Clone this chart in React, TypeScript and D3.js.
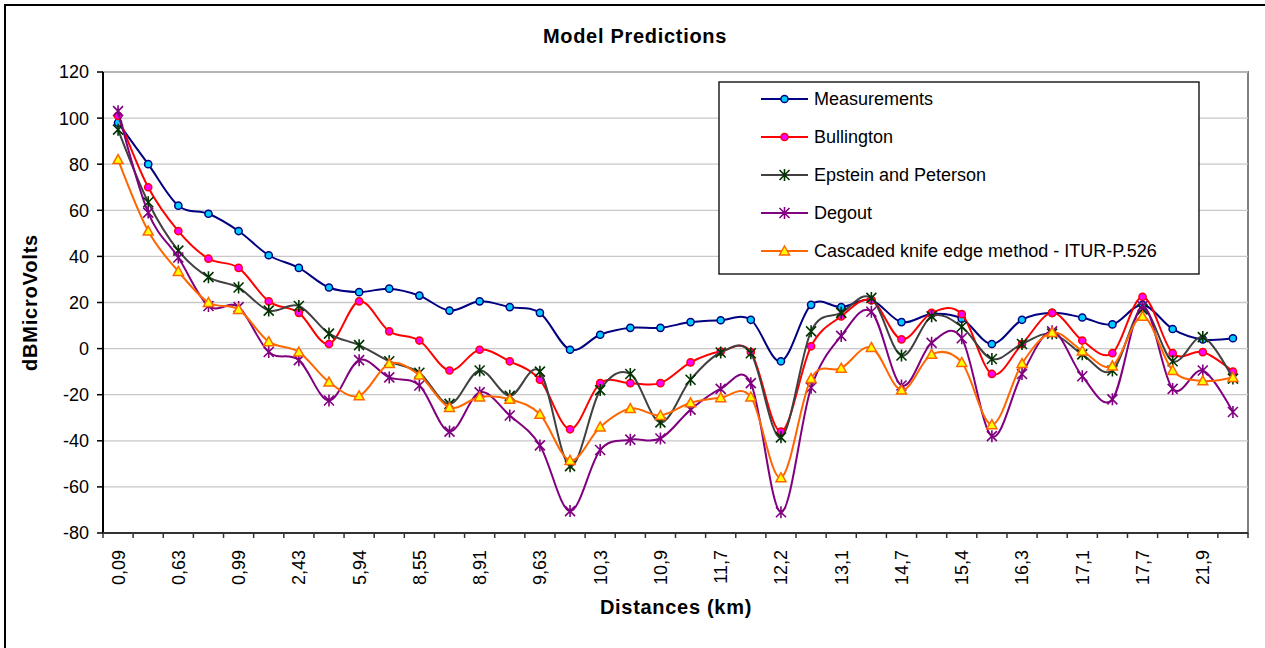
import React from 'react';
import * as d3 from 'd3';

// distances (km); only every second one is labelled on the axis
const distances = [
  '0,09', '0,36', '0,63', '0,81', '0,99', '1,71', '2,43', '4,18', '5,94', '7,24',
  '8,55', '8,73', '8,91', '9,27', '9,63', '9,97', '10,3', '10,6', '10,9', '11,3',
  '11,7', '11,9', '12,2', '12,6', '13,1', '13,9', '14,7', '15,0', '15,4', '15,8',
  '16,3', '16,7', '17,1', '17,4', '17,7', '19,8', '21,9', '22,5',
];

const measurements = [
  98, 80, 62, 58.5, 51, 40.5, 35, 26.5, 24.5, 26,
  23, 16.5, 20.5, 18, 15.5, -0.5, 6, 9, 9, 11.5,
  12.3, 12.5, -5.5, 19, 18, 21, 11.5, 15, 13, 2,
  12.5, 15.5, 13.5, 10.5, 19, 8.5, 4, 4.5,
];
const bullington = [
  101, 70, 51, 39, 35, 20.5, 15.5, 2, 20.5, 7.5,
  3.5, -9.5, -0.5, -5.5, -13.5, -35, -15, -15, -15, -6,
  -1.3, -1.5, -36, 1, 14, 21, 4, 15.5, 15, -11,
  2, 15.5, 3.5, -2, 22.5, -2, -1.5, -10,
];
const epstein = [
  95, 63.5, 42.5, 31, 26.5, 16.5, 18.5, 6.5, 1.5, -5.5,
  -10.5, -24, -9.5, -20.5, -10, -51, -18, -11, -32, -13.5,
  -1.7, -2, -38.5, 7.5, 15.5, 22, -3, 14, 9.5, -4.5,
  2, 6.5, -2.5, -9.5, 17, -5.5, 5, -13,
];
const degout = [
  103, 59, 39.5, 18.5, 18, -1.5, -5, -22.5, -5, -12.5,
  -16, -36, -19, -29, -42, -70.5, -44, -39.5, -39, -26.5,
  -17.5, -15, -71, -17, 5.5, 16, -16, 2.5, 4.5, -38,
  -11, 7.5, -12, -22, 18.5, -17.5, -9.5, -27.5,
];
const cascaded = [
  82, 51, 33.5, 20, 17, 3, -1.5, -14.5, -20.5, -6.5,
  -11.5, -25.5, -21, -22, -28.5, -48.5, -34, -26, -29, -23.5,
  -21.3, -21, -56, -13, -8.5, 0.5, -18, -2.5, -6, -33,
  -6.5, 7, -1, -7.5, 14, -9.5, -14, -12.5,
];

const yTicks = [-80, -60, -40, -20, 0, 20, 40, 60, 80, 100, 120];

type Marker = 'circle' | 'star' | 'triangle';
const series: { name: string; values: number[]; line: string; stroke: string; fill: string; marker: Marker }[] = [
  { name: 'Measurements', values: measurements, line: '#000080', stroke: '#000080', fill: '#00CCFF', marker: 'circle' },
  { name: 'Bullington', values: bullington, line: '#FF0000', stroke: '#FF0000', fill: '#FF00FF', marker: 'circle' },
  { name: 'Epstein and Peterson', values: epstein, line: '#404040', stroke: '#003300', fill: 'none', marker: 'star' },
  { name: 'Degout', values: degout, line: '#800080', stroke: '#800080', fill: 'none', marker: 'star' },
  { name: 'Cascaded knife edge method - ITUR-P.526', values: cascaded, line: '#FF6600', stroke: '#FF6600', fill: '#FFFF00', marker: 'triangle' },
];

const W = 1265;
const H = 648;
const margin = { left: 103, right: 1248, top: 72, bottom: 533 };
const font = 'Arial, "Liberation Sans", sans-serif';

function drawMarker(kind: Marker, x: number, y: number, stroke: string, fill: string, key: React.Key) {
  if (kind === 'circle') {
    return <circle key={key} cx={x} cy={y} r={3.6} fill={fill} stroke={stroke} strokeWidth={1.5} />;
  }
  if (kind === 'triangle') {
    const s = 5;
    return (
      <path
        key={key}
        d={`M${x},${y - s}L${x + s},${y + s * 0.8}L${x - s},${y + s * 0.8}Z`}
        fill={fill}
        stroke={stroke}
        strokeWidth={1.5}
        strokeLinejoin="miter"
      />
    );
  }
  const s = 5;
  return (
    <path
      key={key}
      d={`M${x - s},${y - s}L${x + s},${y + s}M${x - s},${y + s}L${x + s},${y - s}M${x},${y - s - 1}L${x},${y + s + 1}`}
      stroke={stroke}
      strokeWidth={1.6}
      fill="none"
    />
  );
}

export default function App() {
  const x = d3.scaleBand<number>()
    .domain(distances.map((d, i) => i))
    .range([margin.left, margin.right])
    .paddingInner(0)
    .paddingOuter(0);
  const cx = (i: number) => (x(i) as number) + x.bandwidth() / 2;

  const y = d3.scaleLinear().domain([-80, 120]).range([margin.bottom, margin.top]);

  const line = d3.line<number>()
    .x((d, i) => cx(i))
    .y(d => y(d))
    .curve(d3.curveCardinal.tension(0));

  const legendX = 719;
  const legendY = 82;
  const legendRow = 38;

  return (
    <svg
      width={W}
      height={H}
      style={{ position: 'absolute', left: 0, top: 0, background: '#fff' }}
      fontFamily={font}
    >
      {/* chart border */}
      <rect x={5} y={5} width={W + 10} height={H + 10} fill="#fff" stroke="#000" strokeWidth={2} />

      <text x={635} y={43} textAnchor="middle" fontSize={20} fontWeight="bold" letterSpacing={0.7}>
        Model Predictions
      </text>

      {/* plot area + grid */}
      <rect
        x={margin.left}
        y={margin.top}
        width={margin.right - margin.left}
        height={margin.bottom - margin.top}
        fill="#fff"
        stroke="#808080"
        strokeWidth={2}
      />
      {yTicks.map(t => (
        <line key={'g' + t} x1={margin.left} x2={margin.right} y1={y(t)} y2={y(t)} stroke="#C8C8C8" strokeWidth={1.3} />
      ))}

      {/* y axis */}
      <line x1={margin.left} x2={margin.left} y1={margin.top} y2={margin.bottom} stroke="#000" strokeWidth={2} />
      {yTicks.map(t => (
        <g key={'y' + t}>
          <line x1={margin.left - 6} x2={margin.left} y1={y(t)} y2={y(t)} stroke="#000" strokeWidth={1.5} />
          <text x={89} y={y(t)} dy="0.36em" textAnchor="end" fontSize={18}>
            {t}
          </text>
        </g>
      ))}
      <text
        transform={`translate(37,${(margin.top + margin.bottom) / 2}) rotate(-90)`}
        textAnchor="middle"
        fontSize={20}
        fontWeight="bold"
        letterSpacing={0.8}
      >
        dBMicroVolts
      </text>

      {/* x axis */}
      <line x1={margin.left} x2={margin.right} y1={margin.bottom} y2={margin.bottom} stroke="#333" strokeWidth={2} />
      {distances.map((d, i) => (
        <line
          key={'xt' + i}
          x1={x(i) as number}
          x2={x(i) as number}
          y1={margin.bottom}
          y2={margin.bottom + 5}
          stroke="#333"
          strokeWidth={1.5}
        />
      ))}
      <line x1={margin.right} x2={margin.right} y1={margin.bottom} y2={margin.bottom + 5} stroke="#333" strokeWidth={1.5} />
      {distances.map((d, i) =>
        i % 2 === 0 ? (
          <text
            key={'xl' + i}
            transform={`translate(${cx(i)},550) rotate(-90)`}
            textAnchor="end"
            dy="0.36em"
            fontSize={18}
          >
            {d}
          </text>
        ) : null,
      )}
      <text x={676} y={614} textAnchor="middle" fontSize={20} fontWeight="bold" letterSpacing={0.7}>
        Distances (km)
      </text>

      {/* series */}
      {series.map(s => (
        <g key={s.name}>
          <path d={line(s.values) || ''} fill="none" stroke={s.line} strokeWidth={2} />
          {s.values.map((v, i) => drawMarker(s.marker, cx(i), y(v), s.stroke, s.fill, i))}
        </g>
      ))}

      {/* legend */}
      <rect x={legendX} y={legendY} width={480} height={192} fill="#fff" stroke="#000" strokeWidth={1.3} />
      {series.map((s, i) => {
        const ly = 99 + i * legendRow;
        return (
          <g key={'lg' + s.name}>
            <line x1={761} x2={808} y1={ly} y2={ly} stroke={s.line} strokeWidth={2} />
            {drawMarker(s.marker, 784.5, ly, s.stroke, s.fill, 'm')}
            <text x={814} y={ly} dy="0.36em" fontSize={18}>
              {s.name}
            </text>
          </g>
        );
      })}
    </svg>
  );
}
